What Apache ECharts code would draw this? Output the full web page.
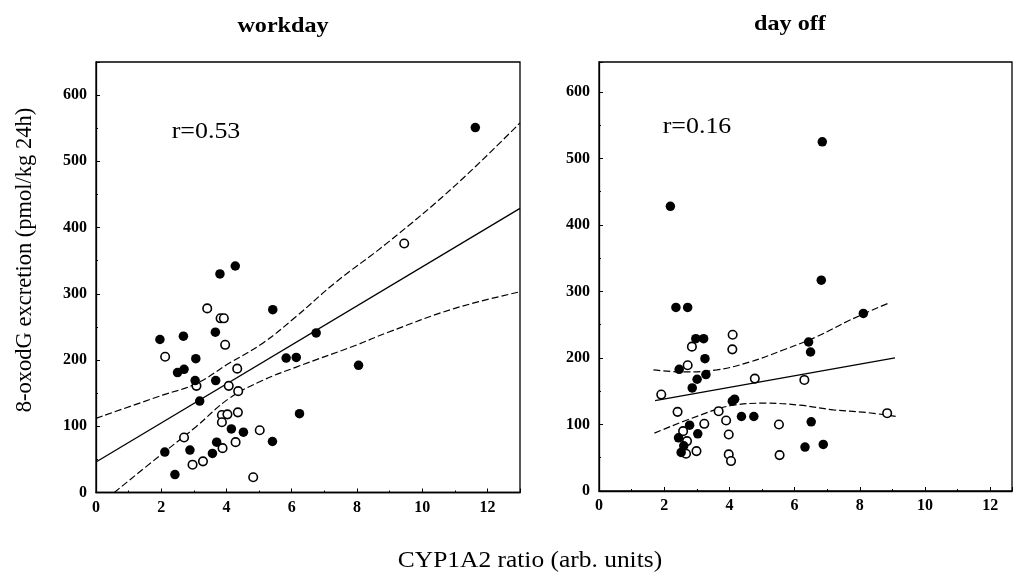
<!DOCTYPE html>
<html>
<head>
<meta charset="utf-8">
<script src="https://cdn.jsdelivr.net/npm/echarts@6/dist/echarts.min.js"></script>
<style>
html,body{margin:0;padding:0;background:#fff;}
#chart{width:1014px;height:585px;}
</style>
</head>
<body>
<div id="chart"></div>
<script>
// ---------- data ----------
const panelTitles = ['workday', 'day off'];
const rLabels = ['r=0.53', 'r=0.16'];
const xAxisTitle = 'CYP1A2 ratio (arb. units)';
const yAxisTitle = '8-oxodG excretion (pmol/kg 24h)';

// workday: filled circles [x, y]
const workFilled = [
  [11.63,551],[4.27,342],[3.80,330],[5.42,276],[6.75,241],[1.96,231],[2.68,236],
  [3.66,242],[3.06,202],[5.83,203],[6.14,204],[8.05,192],[2.50,181],[2.70,186],
  [3.04,169],[3.67,169],[3.18,138],[6.24,119],[4.15,96],[4.52,91],[5.41,77],
  [2.11,61],[2.88,64],[3.70,76],[3.57,59],[2.42,27]
];
// workday: open circles
const workOpen = [
  [9.45,376],[3.41,278],[3.82,263],[3.92,263],[3.96,223],[2.12,205],[4.33,187],
  [3.08,161],[4.07,161],[4.36,153],[4.35,121],[3.86,117],[4.03,118],[3.86,106],
  [5.02,94],[2.70,83],[4.28,76],[3.88,67],[2.96,42],[3.28,47],[4.82,23]
];
// workday regression line and confidence band
const workFit = [[0,46],[13,429]];
const workUpper = [[0,112],[2.04,147],[3.06,164],[4.08,195],[5.10,225],[6.12,265],[7.34,317],[8.96,378],[11.0,463],[13,558]];
const workLower = [[0.56,0],[2.04,59],[3.06,99],[4.08,142],[5.10,169],[6.12,189],[7.95,222],[8.96,242],[11.0,278],[13,303]];

// day off: filled circles
const offFilled = [
  [6.85,525],[2.19,428],[6.82,317],[2.36,276],[2.72,276],[8.11,267],[2.97,229],
  [3.21,229],[6.43,224],[6.49,209],[3.25,199],[2.46,183],[3.28,175],[3.01,168],
  [2.86,155],[4.16,138],[4.09,135],[4.37,112],[4.75,112],[6.51,104],[2.78,99],
  [3.03,86],[2.44,80],[2.60,68],[2.52,58],[6.32,66],[6.88,70]
];
// day off: open circles
const offOpen = [
  [4.10,235],[4.09,213],[2.85,217],[2.72,189],[4.78,169],[6.30,167],[1.91,145],
  [2.41,119],[3.67,120],[8.84,117],[3.90,106],[3.23,101],[5.52,100],[2.58,90],
  [3.98,85],[2.70,75],[2.99,60],[2.67,56],[3.98,55],[4.05,45],[5.54,54]
];
const offFit = [[1.72,136],[9.08,200]];
const offUpper = [[1.67,182],[2.59,179],[3.61,182],[4.63,194],[5.65,212],[6.68,232],[7.70,257],[8.91,283]];
const offLower = [[1.70,87],[3.10,114],[4.12,129],[5.14,132],[6.16,129],[7.19,122],[8.21,118],[9.13,112]];

// axis ranges
const xMax = [13, 12.67];
const yMax = [650, 645];
const xInterval = 2;
const yInterval = 100;

// ---------- chart ----------
const FONT = '"Liberation Serif", "DejaVu Serif", serif';
const chart = echarts.init(document.getElementById('chart'), null, {renderer: 'canvas'});

const grids = [
  {left: 96, top: 62, width: 424, height: 430.5},
  {left: 599, top: 62, width: 413, height: 429}
];

function xAxisFor(i) {
  return {
    type: 'value', gridIndex: i, min: 0, max: xMax[i], interval: xInterval,
    axisLine: {show: true, lineStyle: {color: '#000', width: 1.3}},
    axisTick: {show: true, inside: true, length: 4, lineStyle: {color: '#000'}},
    minorTick: {show: true, splitNumber: 2, length: 2, lineStyle: {color: '#000'}},
    splitLine: {show: false},
    axisLabel: {
      show: true, color: '#000', fontFamily: FONT, fontWeight: 'bold', fontSize: 16, margin: 7,
      showMaxLabel: false,
      formatter: v => (v % 2 === 0 ? String(v) : '')
    }
  };
}
function yAxisFor(i) {
  return {
    type: 'value', gridIndex: i, min: 0, max: yMax[i], interval: yInterval,
    axisLine: {show: true, lineStyle: {color: '#000', width: 1.3}},
    axisTick: {show: true, inside: true, length: 4, lineStyle: {color: '#000'}},
    minorTick: {show: true, splitNumber: 2, length: 2, lineStyle: {color: '#000'}},
    splitLine: {show: false},
    axisLabel: {
      show: true, color: '#000', fontFamily: FONT, fontWeight: 'bold', fontSize: 16, margin: 9,
      showMaxLabel: false,
      formatter: v => (v % 100 === 0 ? String(v) : '')
    }
  };
}

function panelSeries(i, filled, open, fit, upper, lower) {
  return [
    {type: 'line', xAxisIndex: i, yAxisIndex: i, data: fit, symbol: 'none', silent: true,
     lineStyle: {color: '#000', width: 1.3}, z: 2},
    {type: 'line', xAxisIndex: i, yAxisIndex: i, data: upper, symbol: 'none', smooth: 0.4, silent: true,
     lineStyle: {color: '#000', width: 1.2, type: [7, 3]}, z: 2},
    {type: 'line', xAxisIndex: i, yAxisIndex: i, data: lower, symbol: 'none', smooth: 0.4, silent: true,
     lineStyle: {color: '#000', width: 1.2, type: [7, 3]}, z: 2},
    {type: 'scatter', xAxisIndex: i, yAxisIndex: i, data: open, symbol: 'circle', symbolSize: 8.5,
     itemStyle: {color: '#fff', borderColor: '#000', borderWidth: 1.6, opacity: 1}, z: 3},
    {type: 'scatter', xAxisIndex: i, yAxisIndex: i, data: filled, symbol: 'circle', symbolSize: 9.5,
     itemStyle: {color: '#000', borderColor: '#000', borderWidth: 0, opacity: 1}, z: 4}
  ];
}

function txt(x, y, text, font, extra) {
  return Object.assign({type: 'text', x: x, y: y,
    style: {text: text, font: font, fill: '#000', align: 'center', verticalAlign: 'middle'}}, extra || {});
}

const option = {
  backgroundColor: '#fff',
  animation: false,
  grid: grids.map(g => Object.assign({show: true, borderColor: '#000', borderWidth: 1.3, backgroundColor: 'transparent'}, g)),
  xAxis: [xAxisFor(0), xAxisFor(1)],
  yAxis: [yAxisFor(0), yAxisFor(1)],
  series: [
    ...panelSeries(0, workFilled, workOpen, workFit, workUpper, workLower),
    ...panelSeries(1, offFilled, offOpen, offFit, offUpper, offLower)
  ],
  graphic: [
    txt(283, 27, panelTitles[0], 'bold 21px ' + FONT, {scaleX: 1.15}),
    txt(790, 25, panelTitles[1], 'bold 21px ' + FONT, {scaleX: 1.15}),
    txt(206, 132, rLabels[0], '24px ' + FONT, {scaleX: 1.08}),
    txt(697, 127, rLabels[1], '24px ' + FONT, {scaleX: 1.08}),
    txt(530, 561, xAxisTitle, '24px ' + FONT, {scaleX: 1.06}),
    txt(25, 260, yAxisTitle, '22.5px ' + FONT, {rotation: Math.PI / 2})
  ]
};

chart.setOption(option);
</script>
</body>
</html>
